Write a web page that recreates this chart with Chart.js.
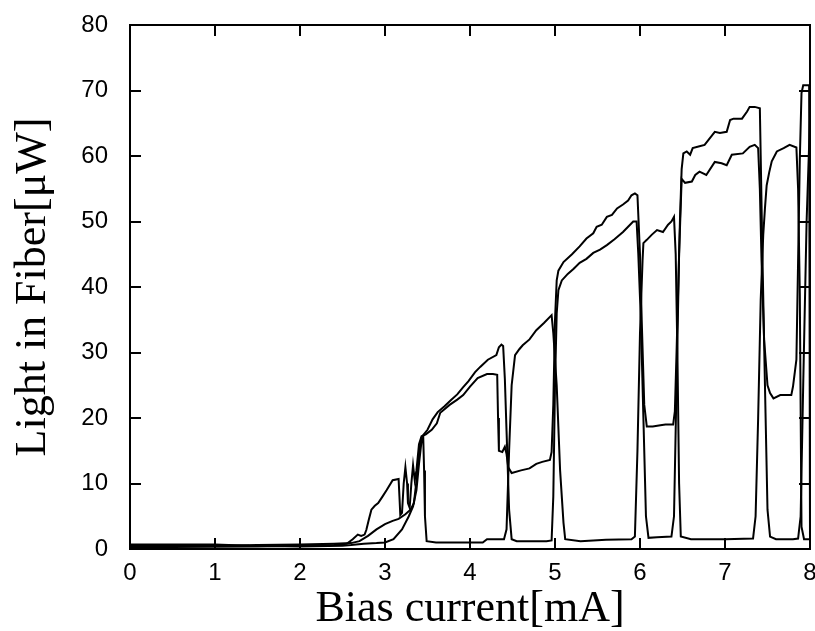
<!DOCTYPE html>
<html>
<head>
<meta charset="utf-8">
<script src="https://cdn.jsdelivr.net/npm/chart.js@4.4.0/dist/chart.umd.min.js"></script>
<style>
  html, body { margin: 0; padding: 0; background: #fff; }
  canvas { display: block; }
</style>
</head>
<body>
<canvas id="lif" width="815" height="631"></canvas>
<script>
// ── Sweep data: bias current [mA] vs light in fiber [uW] ─────────
const X_TICKS = [0, 1, 2, 3, 4, 5, 6, 7, 8]
const Y_TICKS = [0, 10, 20, 30, 40, 50, 60, 70, 80]

const sweepA_x = [0, 0.5, 1.0, 1.5, 2.0, 2.4, 2.6, 2.7, 2.8, 2.9, 3.0, 3.09, 3.16, 3.24, 3.3, 3.34, 3.37, 3.41, 3.43, 3.45,
  3.5, 3.56, 3.62, 3.7, 3.78, 3.85, 3.92, 3.98, 4.06, 4.12, 4.21, 4.31, 4.34, 4.37, 4.39, 4.41, 4.43, 4.46, 4.49, 4.55,
  4.7, 4.9, 4.96, 4.98, 5.0, 5.02, 5.04, 5.08, 5.15, 5.22, 5.29, 5.37, 5.45, 5.53, 5.61, 5.7, 5.8, 5.86, 5.92, 5.96,
  5.98, 6.01, 6.04, 6.07, 6.1, 6.2, 6.37, 6.4, 6.43, 6.46, 6.49, 6.53, 6.61, 6.65, 6.7, 6.78, 6.88, 6.96, 7.02, 7.08,
  7.21, 7.29, 7.35, 7.39, 7.41, 7.43, 7.46, 7.5, 7.53, 7.57, 7.65, 7.78, 7.8, 7.84, 7.86, 7.88, 7.9, 7.92, 7.99, 8.0]
const sweepA_y = [0.5, 0.5, 0.5, 0.6, 0.7, 0.8, 0.9, 1.2, 2.0, 3.0, 3.8, 4.3, 4.6, 5.3, 6.0, 7.0, 10.4, 15.5, 17.0, 17.4,
  18.2, 19.8, 20.9, 21.8, 22.8, 23.6, 24.7, 25.6, 27.0, 27.8, 28.9, 29.6, 30.8, 31.2, 31.0, 26.0, 18.0, 6.0, 1.5, 1.2,
  1.2, 1.2, 1.3, 8.0, 25.0, 36.0, 39.5, 41.0, 42.0, 42.8, 43.7, 44.3, 45.2, 45.7, 46.4, 47.3, 48.4, 49.2, 50.0, 50.0,
  45.0, 35.0, 20.0, 5.0, 1.7, 1.8, 1.9, 5.0, 25.0, 45.0, 56.5, 55.9, 56.1, 57.1, 57.6, 57.1, 59.1, 58.9, 58.6, 60.2,
  60.4, 61.4, 61.7, 61.2, 55.0, 44.0, 32.0, 25.0, 23.8, 23.0, 23.5, 23.5, 24.8, 28.9, 44.0, 59.4, 69.6, 70.8, 70.8, 1.5]

const sweepB_x = [0, 0.5, 1.0, 1.5, 2.0, 2.4, 2.55, 2.62, 2.68, 2.72, 2.76, 2.78, 2.81, 2.84, 2.88, 2.92, 2.97, 3.02, 3.09, 3.16,
  3.17, 3.18, 3.2, 3.22, 3.24, 3.26, 3.27, 3.29, 3.31, 3.33, 3.35, 3.37, 3.4, 3.43, 3.48, 3.55, 3.61, 3.65, 3.76, 3.85,
  3.92, 4.0, 4.09, 4.2, 4.27, 4.32, 4.33, 4.34, 4.38, 4.41, 4.43, 4.45, 4.49, 4.6, 4.7, 4.78, 4.85, 4.94, 4.96, 4.98,
  5.0, 5.02, 5.04, 5.1, 5.2, 5.29, 5.37, 5.45, 5.49, 5.55, 5.61, 5.67, 5.73, 5.8, 5.86, 5.9, 5.94, 5.97, 6.0, 6.02,
  6.05, 6.08, 6.15, 6.24, 6.3, 6.39, 6.41, 6.43, 6.45, 6.47, 6.49, 6.51, 6.55, 6.59, 6.62, 6.7, 6.76, 6.82, 6.88, 6.94,
  7.02, 7.06, 7.1, 7.2, 7.26, 7.29, 7.35, 7.41, 7.42, 7.44, 7.47, 7.5, 7.53, 7.6, 7.7, 7.8, 7.86, 7.89, 7.92, 7.96, 8.0]
const sweepB_y = [0.3, 0.3, 0.35, 0.4, 0.5, 0.6, 0.8, 1.5, 2.2, 2.0, 2.2, 2.9, 4.5, 6.0, 6.6, 7.0, 8.0, 9.0, 10.5, 10.7,
  8.0, 5.2, 5.5, 10.0, 12.5, 10.0, 7.0, 6.3, 10.0, 12.8, 10.5, 12.0, 16.0, 17.2, 17.5, 18.2, 19.2, 20.8, 22.0, 22.8,
  23.5, 24.8, 26.1, 26.7, 26.7, 26.6, 20.0, 15.0, 14.8, 15.6, 14.5, 12.5, 11.6, 12.0, 12.3, 13.0, 13.3, 13.6, 14.8, 22.0,
  35.0, 41.0, 42.5, 43.8, 45.0, 46.2, 47.4, 48.2, 49.2, 49.5, 50.7, 51.0, 52.0, 52.6, 53.2, 54.0, 54.3, 54.0, 45.0, 35.0,
  22.0, 18.7, 18.7, 18.9, 19.0, 19.0, 21.0, 30.0, 40.0, 50.2, 58.0, 60.4, 60.7, 60.2, 61.2, 61.5, 61.7, 62.7, 63.7, 63.5,
  63.7, 65.5, 65.7, 65.7, 66.8, 67.5, 67.5, 67.3, 60.0, 45.0, 25.0, 6.0, 1.9, 1.5, 1.5, 1.5, 1.6, 5.0, 25.0, 50.0, 65.7]

const sweepC_x = [0, 0.5, 1.0, 1.4, 2.0, 2.5, 2.6, 2.75, 2.9, 3.0, 3.1, 3.2, 3.28, 3.33, 3.37, 3.4, 3.43, 3.45, 3.46, 3.47,
  3.49, 3.6, 4.0, 4.15, 4.2, 4.4, 4.43, 4.46, 4.49, 4.53, 4.58, 4.62, 4.7, 4.78, 4.87, 4.96, 4.98, 5.02, 5.06, 5.1,
  5.12, 5.3, 5.6, 5.9, 5.94, 5.97, 6.0, 6.03, 6.04, 6.08, 6.14, 6.2, 6.27, 6.33, 6.37, 6.4, 6.42, 6.44, 6.46, 6.48,
  6.6, 7.0, 7.33, 7.36, 7.39, 7.42, 7.45, 7.47, 7.49, 7.52, 7.55, 7.61, 7.69, 7.76, 7.84, 7.86, 7.88, 7.9, 7.93, 8.0]
const sweepC_y = [0.7, 0.7, 0.7, 0.5, 0.4, 0.5, 0.6, 0.8, 0.9, 1.0, 1.5, 3.0, 5.0, 6.5, 9.0, 13.0, 16.5, 17.0, 12.0, 5.0,
  1.2, 1.0, 1.0, 1.0, 1.5, 1.5, 3.0, 15.0, 25.0, 29.6, 30.5, 31.1, 32.0, 33.4, 34.5, 35.7, 33.0, 25.0, 12.0, 4.0,
  1.5, 1.2, 1.4, 1.5, 1.9, 15.0, 33.0, 44.0, 46.7, 47.2, 48.0, 48.7, 48.4, 49.5, 50.0, 50.7, 45.0, 30.0, 10.0, 1.9,
  1.5, 1.5, 1.6, 5.0, 20.0, 38.0, 48.0, 52.0, 55.5, 57.5, 59.2, 60.7, 61.2, 61.7, 61.3, 55.0, 39.0, 3.4, 1.5, 1.5]

// ── Helpers ───────────────────────────────────────────
function toPoints(xs, ys) {
  return xs.map((x, i) => ({ x, y: ys[i] }))
}

function sweep(label, xs, ys) {
  return {
    label,
    data: toPoints(xs, ys),
    borderColor: '#000',
    borderWidth: 2,
    pointRadius: 0,
    tension: 0,
    fill: false
  }
}

// frame + inward ticks on all four sides
const frameTicks = {
  id: 'frameTicks',
  afterDraw(chart) {
    const { ctx, chartArea: a, scales } = chart
    const len = 11
    ctx.save()
    ctx.strokeStyle = '#000'
    ctx.lineWidth = 2
    ctx.strokeRect(a.left, a.top, a.right - a.left, a.bottom - a.top)
    ctx.beginPath()
    X_TICKS.forEach(v => {
      const px = Math.round(scales.x.getPixelForValue(v))
      ctx.moveTo(px, a.bottom); ctx.lineTo(px, a.bottom - len)
      ctx.moveTo(px, a.top);    ctx.lineTo(px, a.top + len)
    })
    Y_TICKS.forEach(v => {
      const py = Math.round(scales.y.getPixelForValue(v))
      ctx.moveTo(a.left, py);  ctx.lineTo(a.left + len, py)
      ctx.moveTo(a.right, py); ctx.lineTo(a.right - len, py)
    })
    ctx.stroke()
    ctx.restore()
  }
}

// ── Chart ─────────────────────────────────────────────
new Chart(document.getElementById('lif').getContext('2d'), {
  type: 'line',
  data: {
    datasets: [
      sweep('A', sweepA_x, sweepA_y),
      sweep('B', sweepB_x, sweepB_y),
      sweep('C', sweepC_x, sweepC_y)
    ]
  },
  options: {
    responsive: false,
    animation: false,
    devicePixelRatio: 1,
    layout: { padding: { top: 25, right: 5, left: 0, bottom: 0 } },
    plugins: { legend: { display: false }, tooltip: { enabled: false } },
    scales: {
      x: {
        type: 'linear',
        min: 0,
        max: 8,
        afterFit: s => { s.height = 82; s.paddingLeft = 0; s.paddingRight = 0 },
        afterBuildTicks: s => { s.ticks = X_TICKS.map(v => ({ value: v })) },
        ticks: { color: '#000', padding: 10, maxRotation: 0, font: { family: 'Liberation Sans', size: 24 } },
        grid: { display: false, drawTicks: false },
        border: { display: false },
        title: {
          display: true,
          text: 'Bias current[mA]',
          color: '#000',
          padding: { top: 0, bottom: -5 },
          font: { family: 'Liberation Serif', size: 44 }
        }
      },
      y: {
        type: 'linear',
        min: 0,
        max: 80,
        afterFit: s => { s.width = 130; s.paddingTop = 0; s.paddingBottom = 0 },
        afterBuildTicks: s => { s.ticks = Y_TICKS.map(v => ({ value: v })) },
        ticks: { color: '#000', padding: 22, font: { family: 'Liberation Sans', size: 24 } },
        grid: { display: false, drawTicks: false },
        border: { display: false },
        title: {
          display: true,
          text: 'Light in Fiber[μW]',
          color: '#000',
          padding: { top: 7, bottom: 0 },
          font: { family: 'Liberation Serif', size: 44 }
        }
      }
    }
  },
  plugins: [frameTicks]
})
</script>
</body>
</html>
